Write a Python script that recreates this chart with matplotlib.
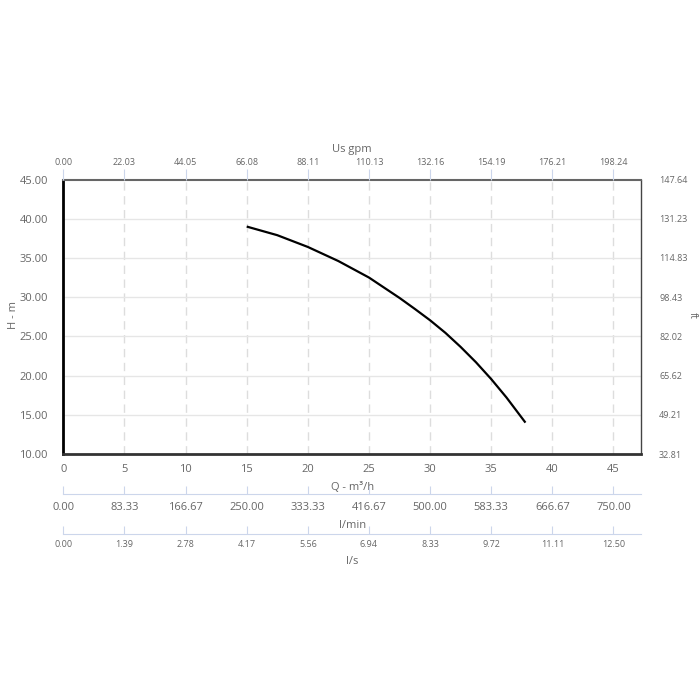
import numpy as np
import matplotlib
matplotlib.use('Agg')
import matplotlib.pyplot as plt

# Curva H-Q (m3/h, m)
caudal = [15.0, 17.5, 20.0, 22.5, 25.0, 27.5, 28.75, 30.0, 31.25, 32.5, 33.75, 35.0, 36.25, 37.8]
altura = [39.0, 37.9, 36.4, 34.6, 32.5, 29.9, 28.5, 27.05, 25.45, 23.65, 21.7, 19.55, 17.2, 14.0]

ticks_q = [0, 5, 10, 15, 20, 25, 30, 35, 40, 45]
ticks_h = [10, 15, 20, 25, 30, 35, 40, 45]

# factores de conversion
a_gpm = 4.4053
a_lmin = 16.6667
a_ls = 0.277778
a_ft = 3.28084

xmax = 47.25
gris = '#666666'
azul = '#ccd6eb'

plt.rcParams['font.family'] = ['Open Sans', 'DejaVu Sans']

fig = plt.figure(figsize=(7, 7), dpi=100)
L, R = 63.3 / 700, 641 / 700
B, T = 1 - 454 / 700, 1 - 179.5 / 700
ax = fig.add_axes([L, B, R - L, T - B])

ax.plot(caudal, altura, color='black', lw=1.6, solid_joinstyle='round', solid_capstyle='butt')
ax.set_xlim(0, xmax)
ax.set_ylim(10, 45)
ax.set_xticks(ticks_q)
ax.set_yticks(ticks_h)
ax.set_yticklabels(['%.2f' % h for h in ticks_h])

# rejilla
for q in ticks_q[1:]:
    ax.axvline(q, color='#dddddd', lw=1, ls=(0, (6, 4)), zorder=0)
for h in ticks_h[1:-1]:
    ax.axhline(h, color='#e6e6e6', lw=1, zorder=0)

ax.spines['left'].set_color('black')
ax.spines['left'].set_linewidth(2)
ax.spines['bottom'].set_color('#333333')
ax.spines['bottom'].set_linewidth(2)
ax.spines['top'].set_color('#666666')
ax.spines['top'].set_linewidth(1.5)
ax.spines['right'].set_color('#444444')
ax.spines['right'].set_linewidth(1)

ax.tick_params(axis='x', colors=azul, labelcolor=gris, labelsize=8, length=0, pad=7)
ax.tick_params(axis='y', length=0, labelcolor=gris, labelsize=8, pad=11)
ax.set_xlabel('Q - m³/h', color=gris, fontsize=8, labelpad=5)

fig.text(14 / 700, 1 - 315 / 700, 'H - m', color=gris, fontsize=8, rotation=90, ha='center', va='center')
fig.text(692 / 700, 1 - 315 / 700, 'ft', color=gris, fontsize=7, rotation=-90, ha='center', va='center')

# eje superior US gpm
ax_top = ax.twiny()
ax_top.set_xlim(0, xmax)
ax_top.set_xticks(ticks_q)
ax_top.set_xticklabels(['%.2f' % (q * a_gpm) for q in ticks_q])
ax_top.tick_params(axis='x', colors=azul, labelcolor=gris, labelsize=6.5, length=8, pad=1)
ax_top.set_xlabel('Us gpm', color=gris, fontsize=8, labelpad=4)
for s in ax_top.spines.values():
    s.set_visible(False)

# eje derecho ft
ax_r = ax.twinx()
ax_r.set_ylim(10, 45)
ax_r.set_yticks(ticks_h)
ax_r.set_yticklabels(['%.2f' % (h * a_ft) for h in ticks_h])
ax_r.tick_params(axis='y', length=0, labelcolor=gris, labelsize=6.5, pad=13)
for s in ax_r.spines.values():
    s.set_visible(False)


def eje_extra(y_px, factor, nombre, tam, pad_lab, pad_tit):
    a = fig.add_axes([L, 1 - y_px / 700, R - L, 1e-4])
    a.set_xlim(0, xmax)
    a.set_ylim(0, 1)
    a.set_xticks(ticks_q)
    a.set_xticklabels(['%.2f' % (q * factor) for q in ticks_q])
    a.set_yticks([])
    for k in ['top', 'left', 'right']:
        a.spines[k].set_visible(False)
    a.spines['bottom'].set_color(azul)
    a.tick_params(axis='x', colors=azul, labelcolor=gris, labelsize=tam, length=6, pad=pad_lab, direction='in')
    a.set_xlabel(nombre, color=gris, fontsize=8, labelpad=pad_tit)
    a.patch.set_visible(False)


eje_extra(493.5, a_lmin, 'l/min', 8, 6, 5)
eje_extra(533.5, a_ls, 'l/s', 6.5, 5, 5)

fig.savefig('out.png', dpi=100)
